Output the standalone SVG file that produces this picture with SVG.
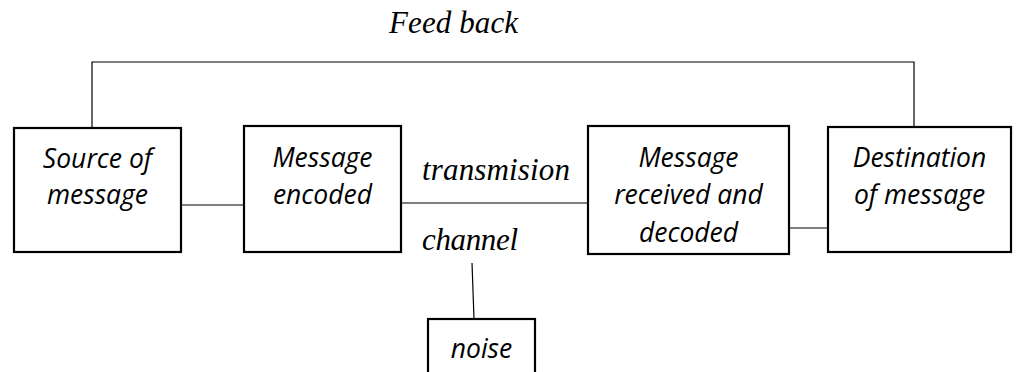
<svg xmlns="http://www.w3.org/2000/svg" width="1018" height="372" viewBox="0 0 1018 372">
<style>
.box{fill:#fff;stroke:#000;stroke-width:2.2}
.con{fill:none;stroke:#000;stroke-width:1.2}
.lbl{font-family:"Open Sans","DejaVu Sans",sans-serif;font-style:italic;font-size:26.5px;fill:#000;text-anchor:middle}
.ser{font-family:"Liberation Serif","Times New Roman",serif;font-style:italic;font-size:31px;fill:#000}
</style>
<rect width="1018" height="372" fill="#fff"/>
<g id="connectors">
<polyline class="con" points="92,131 92,62 914,62 914,131"/>
<line class="con" x1="182" y1="205" x2="243" y2="205"/>
<line class="con" x1="400" y1="203" x2="589" y2="203"/>
<line class="con" x1="789" y1="228" x2="829" y2="228"/>
<line class="con" x1="472" y1="263" x2="474" y2="319"/>
</g>
<g id="feedback-label"><text class="ser" x="389" y="33" textLength="129">Feed back</text></g>
<g id="transmission-label"><text class="ser" x="422" y="180" textLength="148">transmision</text></g>
<g id="channel-label"><text class="ser" x="422" y="250" textLength="96">channel</text></g>
<g id="source">
<rect class="box" x="14" y="128" width="167" height="124"/>
<text class="lbl" x="97.5" y="168">Source of</text>
<text class="lbl" x="97.5" y="204">message</text>
</g>
<g id="encoded">
<rect class="box" x="244" y="126" width="157" height="126"/>
<text class="lbl" x="322.5" y="167">Message</text>
<text class="lbl" x="322.5" y="204">encoded</text>
</g>
<g id="decoded">
<rect class="box" x="588" y="126" width="201" height="128"/>
<text class="lbl" x="688.5" y="167">Message</text>
<text class="lbl" x="688.5" y="204">received and</text>
<text class="lbl" x="688.5" y="242">decoded</text>
</g>
<g id="destination">
<rect class="box" x="828" y="127" width="183" height="125"/>
<text class="lbl" x="919.5" y="167">Destination</text>
<text class="lbl" x="919.5" y="204">of message</text>
</g>
<g id="noise">
<rect class="box" x="428" y="319" width="107" height="70"/>
<text class="lbl" x="481.5" y="358">noise</text>
</g>
</svg>
